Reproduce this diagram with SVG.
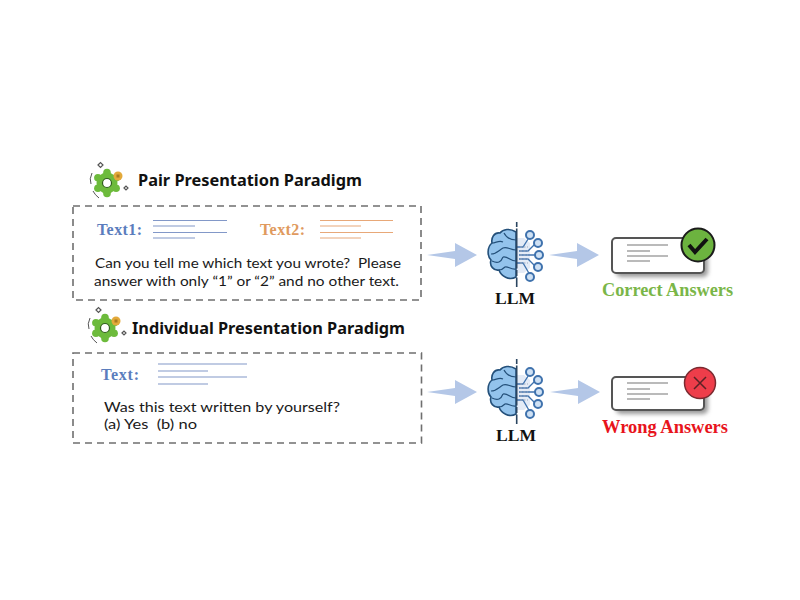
<svg xmlns="http://www.w3.org/2000/svg" width="800" height="600" viewBox="0 0 800 600">
<style>
.box{fill:#fff;stroke:#6f6f6f;stroke-width:1.6;stroke-dasharray:7 5}
.title{font:bold 16px "Noto Sans","Open Sans",sans-serif;fill:#111}
.body{font:14px Lato,"Noto Sans",sans-serif;fill:#1a1a1a;white-space:pre}
.lab{font:bold 16px "Liberation Serif",serif}
.res{font:bold 18px "Liberation Serif",serif}
.llm{font:bold 17px "Liberation Serif",serif;fill:#111}
.bl{stroke:#8298c8;stroke-width:1.2;fill:none}
.ol{stroke:#e8a878;stroke-width:1.2;fill:none}
.gl{stroke:#777;stroke-width:1.2;fill:none}
.arrow{fill:#b4c7e7}
.card{fill:#fff;stroke:#555;stroke-width:2}
</style>
<defs>
<filter id="sh" x="-20%" y="-30%" width="150%" height="170%"><feGaussianBlur stdDeviation="2"/></filter>
<path id="arr" d="M-50,0 L-22,-4 L-22,-12 L0,0 L-22,12 L-22,4 Z"/>
<g id="gear">
<circle r="10.500" fill="#6dbb3c"/>
<g fill="#6dbb3c">
<circle cx="0" cy="-10.500" r="3.800"/><circle cx="9.100" cy="-5.250" r="3.800"/><circle cx="9.100" cy="5.250" r="3.800"/><circle cx="0" cy="10.500" r="3.800"/><circle cx="-9.100" cy="5.250" r="3.800"/><circle cx="-9.100" cy="-5.250" r="3.800"/>
</g>
<circle r="4.500" fill="#fff" stroke="#2f5d1c" stroke-width="1.200"/>
<circle cx="11" cy="-7" r="4.500" fill="#e3a93a"/>
<rect x="9.500" y="-8.500" width="3" height="3" fill="#a97a1f"/>
<path d="M-9,-18 l2.500,-2.500 l2.500,2.500 l-2.500,2.500 Z M17,5 l2,-2 l2,2 l-2,2 Z" fill="#fff" stroke="#555" stroke-width="1.200"/>
<path d="M-15,-10 Q-18,-4 -16,1 M-14,8 Q-12,12 -8,15" fill="none" stroke="#555" stroke-width="1"/>
</g>
<g id="brain">
<path d="M516,232 C510,228 503,229 500,233 C494,232 491,238 492,243 C487,247 487,256 491,260 C489,266 494,271 499,270 C501,276 509,281 516,277 Z" fill="#93c3ec" stroke="#24507a" stroke-width="1.600"/>
<path d="M516,240 C510,240 506,237 504,233 M503,242 C499,240 496,243 492,243 M516,250 C510,250 507,246 503,248 C499,250 497,254 491,254 M516,261 C510,261 508,256 503,257 M503,257 C501,262 498,264 492,261 M516,269 C511,270 508,266 505,267 C503,269 502,270 499,270" fill="none" stroke="#24507a" stroke-width="1.200"/>
<path d="M517,238 H524 L530,243 V268 L524,273 H517 Z" fill="#e4ebf6"/>
<path d="M517,247 H523 L530,236 M519,251 H528 L536,243 M519,255 H536 M519,259 H528 L536,267 M517,263 H523 L530,275" fill="none" stroke="#3f72ad" stroke-width="1.300"/>
<path d="M520,247 h8 M520,251 h8 M520,255 h8 M520,259 h8 M520,263 h8" fill="none" stroke="#9aa7bb" stroke-width="1.200" stroke-dasharray="2 1.500"/>
<g fill="#cfe1f4" stroke="#3f72ad" stroke-width="2">
<circle cx="530" cy="235" r="4"/><circle cx="538" cy="243" r="4"/><circle cx="539" cy="255" r="4"/><circle cx="538" cy="267" r="4"/><circle cx="530" cy="277" r="4"/>
</g>
<path d="M516.700,222 V287" stroke="#2a4560" stroke-width="1.600" stroke-dasharray="5 1.500 40 1.500 6 1.500 10" fill="none"/>
</g>
</defs>
<rect width="800" height="600" fill="#fff"/>

<g id="connectors">
<use href="#arr" class="arrow" transform="translate(477,255)"/>
<use href="#arr" class="arrow" transform="translate(599,255)"/>
<use href="#arr" class="arrow" transform="translate(477,392)"/>
<use href="#arr" class="arrow" transform="translate(600,392)"/>
</g>

<g id="pair-title">
<use href="#gear" transform="translate(107,183)"/>
<text class="title" x="138" y="186" textLength="224" lengthAdjust="spacingAndGlyphs">Pair Presentation Paradigm</text>
</g>

<g id="pair-box">
<rect class="box" x="73" y="206" width="348" height="94"/>
<text class="lab" x="97" y="235" fill="#5b7dbd" textLength="45">Text1:</text>
<path class="bl" d="M153,220.500H227M153,226H195M153,232.500H227M153,238H195"/>
<text class="lab" x="260" y="235" fill="#e09a5e" textLength="45">Text2:</text>
<path class="ol" d="M320,220.500H393M320,226H361M320,232.500H393M320,238H361"/>
<text class="body" x="95" y="268" textLength="306" lengthAdjust="spacingAndGlyphs">Can you tell me which text you wrote?  Please</text>
<text class="body" x="94" y="286" textLength="305" lengthAdjust="spacingAndGlyphs">answer with only “1” or “2” and no other text.</text>
</g>

<g id="llm-1">
<use href="#brain"/>
<text class="llm" x="495" y="304" textLength="40" lengthAdjust="spacingAndGlyphs">LLM</text>
</g>

<g id="correct-result">
<rect x="616" y="242" width="92" height="35" rx="5" fill="#999" filter="url(#sh)"/>
<rect class="card" x="612" y="238" width="92" height="35" rx="4"/>
<path class="gl" d="M627,245H668M627,251H650M627,256H668M627,261H650"/>
<circle cx="698" cy="245" r="16.500" fill="#6cb33f" stroke="#1b1b1b" stroke-width="2"/>
<path d="M689,245 L695,252 L707,239" fill="none" stroke="#111" stroke-width="4"/>
<text class="res" x="602" y="296" fill="#7ab648" textLength="131" lengthAdjust="spacingAndGlyphs">Correct Answers</text>
</g>

<g id="individual-title">
<use href="#gear" transform="translate(105,328)"/>
<text class="title" x="132" y="334" textLength="273" lengthAdjust="spacingAndGlyphs">Individual Presentation Paradigm</text>
</g>

<g id="individual-box">
<rect class="box" x="73" y="353" width="348.500" height="90"/>
<text class="lab" x="101" y="380" fill="#5b7dbd" textLength="38">Text:</text>
<path class="bl" d="M158,364H247M158,371H208M158,377H247M158,384H208"/>
<text class="body" x="104" y="412" textLength="236" lengthAdjust="spacingAndGlyphs">Was this text written by yourself?</text>
<text class="body" x="104" y="429" textLength="93" lengthAdjust="spacingAndGlyphs">(a) Yes  (b) no</text>
</g>

<g id="llm-2">
<use href="#brain" transform="translate(0,137)"/>
<text class="llm" x="496" y="441" textLength="40" lengthAdjust="spacingAndGlyphs">LLM</text>
</g>

<g id="wrong-result">
<rect x="616" y="381" width="92" height="33" rx="5" fill="#999" filter="url(#sh)"/>
<rect class="card" x="612" y="377" width="92" height="33" rx="4"/>
<path class="gl" d="M627,383H668M627,389H650M627,394H668M627,399H650"/>
<circle cx="700" cy="383" r="15.500" fill="#ee3d4a" stroke="#7a2a30" stroke-width="1.500"/>
<path d="M694,377 L706,389 M706,377 L694,389" fill="none" stroke="#5a2226" stroke-width="1.500"/>
<text class="res" x="602" y="433" fill="#e8141c" textLength="126" lengthAdjust="spacingAndGlyphs">Wrong Answers</text>
</g>
</svg>
